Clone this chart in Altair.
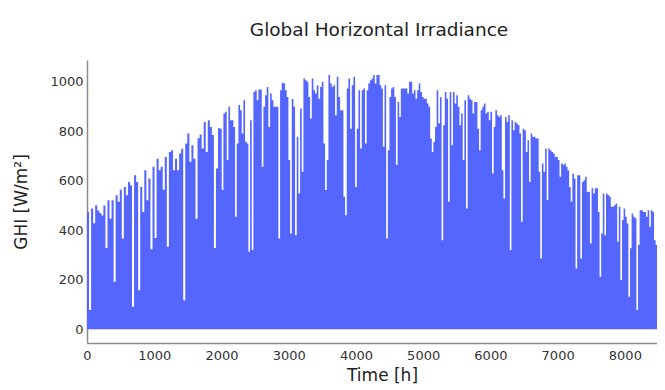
import altair as alt
import pandas as pd

# Hour boundaries of the four stretches
seg_hours = [0, 1979, 4062, 6146, 8601]

# Daily peak GHI values [W/m2], in time order
peak_1 = [474, 78, 488, 428, 501, 480, 470, 460, 500, 328, 521, 446, 521, 192, 541,
          515, 563, 367, 575, 541, 595, 582, 91, 622, 595, 158, 575, 474, 642, 521,
          609, 323, 656, 369, 689, 642, 656, 563, 696, 333, 716, 723, 642, 689, 642,
          710, 729, 118, 750, 790, 676, 743, 689, 446, 771, 786, 730, 837, 716, 844,
          817, 784, 328, 649, 812]
peak_2 = [810, 562, 871, 878, 683, 898, 844, 844, 817, 454, 750, 905, 884, 790, 925,
          757, 750, 313, 844, 320, 958, 965, 925, 968, 968, 656, 898, 945, 978, 817,
          952, 925, 898, 898, 898, 367, 965, 995, 992, 965, 938, 683, 387, 931, 898,
          380, 777, 548, 891, 636, 1012, 1005, 999, 938, 851, 1012, 965, 952, 985, 931,
          978, 999, 750, 562, 683, 1026, 992, 978, 985, 864, 1019, 938, 884, 884, 535,
          461, 972, 1012, 810, 985, 1019, 575, 810, 965]
peak_3 = [730, 965, 972, 750, 965, 992, 1005, 1012, 1026, 992, 1026, 1026, 985, 972, 737,
          985, 367, 723, 938, 972, 978, 938, 663, 918, 857, 972, 972, 972, 972, 952,
          999, 999, 952, 965, 931, 965, 992, 958, 938, 931, 931, 911, 898, 770, 716,
          757, 817, 965, 831, 938, 360, 824, 958, 931, 515, 958, 743, 958, 911, 945,
          898, 824, 871, 683, 925, 488, 945, 931, 925, 871, 918, 918, 810, 723, 884,
          898, 911, 871, 878, 844, 878, 629, 817, 884, 864, 857]
peak_4 = [864, 642, 528, 857, 837, 864, 320, 844, 804, 837, 831, 824, 790, 434, 810,
          804, 716, 763, 595, 790, 777, 777, 770, 770, 636, 286, 669, 636, 730, 522,
          730, 723, 716, 710, 696, 696, 683, 616, 669, 663, 669, 656, 642, 575, 515,
          629, 609, 246, 622, 622, 286, 595, 602, 616, 555, 555, 347, 569, 548, 569,
          569, 474, 212, 387, 548, 380, 548, 542, 535, 495, 495, 501, 508, 354, 495,
          199, 441, 488, 454, 427, 132, 327, 468, 454, 448, 78, 340, 481, 481, 474,
          474, 454, 481, 414, 481, 474, 360, 340, 474, 468, 474, 414, 470]

x_ticks = [0, 1000, 2000, 3000, 4000, 5000, 6000, 7000, 8000]
y_ticks = [0, 200, 400, 600, 800, 1000]

rows = []
segments = [peak_1, peak_2, peak_3, peak_4]
for k, seg in enumerate(segments):
    h0, h1 = seg_hours[k], seg_hours[k + 1]
    step = (h1 - h0) / len(seg)
    for i, v in enumerate(seg):
        rows.append({"t": h0 + i * step, "ghi": v})
rows.append({"t": seg_hours[-1], "ghi": peak_4[-1]})
df = pd.DataFrame(rows)

FONT = "DejaVu Sans"
BLUE = "#5566FF"

chart = (
    alt.Chart(df)
    .mark_area(interpolate="step-after", color=BLUE, clip=True, opacity=1)
    .encode(
        x=alt.X(
            "t:Q",
            scale=alt.Scale(domain=[0, 8478], nice=False, zero=False),
            axis=alt.Axis(
                values=x_ticks, format="d", grid=False, ticks=False,
                labelFlush=False, labelPadding=6, domainColor="#8c8c8c",
                domainWidth=1.5, title="Time [h]",
                titleX=295, titleY=24, titleBaseline="top",
            ),
        ),
        y=alt.Y(
            "ghi:Q",
            scale=alt.Scale(domain=[-55, 1087], nice=False, zero=False),
            axis=alt.Axis(
                values=y_ticks, format="d", grid=False, ticks=False,
                labelPadding=4, domainColor="#8c8c8c", domainWidth=1.5,
                title="GHI [W/m²]", titlePadding=19,
            ),
        ),
        y2=alt.datum(0),
    )
    .properties(
        width=570,
        height=283,
        autosize=alt.AutoSizeParams(type="none"),
        padding={"left": 79, "top": 52, "right": 0, "bottom": 46},
        title=alt.Title(
            "Global Horizontal Irradiance", anchor="middle", offset=21, dx=7,
            font=FONT, fontSize=18.5, fontWeight="normal", color="#222",
        ),
    )
    .configure_view(stroke=None)
    .configure_axis(
        labelFont=FONT, labelFontSize=13, labelColor="#333",
        titleFont=FONT, titleFontSize=17, titleFontWeight="normal", titleColor="#222",
    )
)

chart.save("out.html", embed_options={"renderer": "svg", "actions": False})
